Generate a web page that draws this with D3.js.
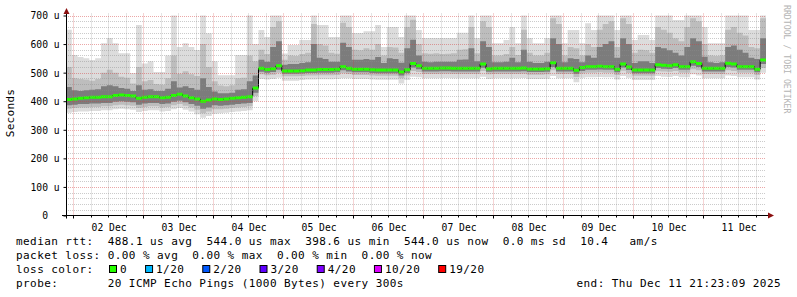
<!DOCTYPE html>
<html>
<head>
<meta charset="utf-8">
<script src="https://cdn.jsdelivr.net/npm/d3@7"></script>
<style>
body { margin: 0; background: #fff; }
svg text { font-family: "DejaVu Sans Mono", monospace; white-space: pre; }
</style>
</head>
<body>
<script>
// time span of the graph (10 days, 2 hour bins)
var tStart = new Date(2025, 11, 1, 21, 23, 9),
	tEnd = new Date(2025, 11, 11, 21, 23, 9);

// y ticks (microseconds) and x labels
var yTicks = [0, 100, 200, 300, 400, 500, 600, 700];
var xLabels = ["02 Dec", "03 Dec", "04 Dec", "05 Dec", "06 Dec", "07 Dec", "08 Dec", "09 Dec", "10 Dec", "11 Dec"];

// smoke: ping rtt quantiles per 2h bin, in us
var maxV = [650,562,555,550,544,550,603,621,603,568,568,499,667,532,540,502,502,560,705,590,603,590,579,705,638,540,491,491,491,562,562,705,
	600,649,625,705,705,567,597,597,614,614,
	705,667,667,625,625,705,705,639,639,645,
	645,667,590,660,660,625,705,705,649,621,
	621,621,621,621,621,640,640,705,621,705,
	705,603,603,614,660,603,705,621,603,603,
	621,705,705,603,649,649,603,673,649,705,
	705,705,649,705,705,614,632,632,614,705,
	705,705,684,684,705,705,705,660,603,603,
	603,705,705,705,705,649,649,705];
var p90 = [520,480,478,476,472,478,500,510,500,486,482,462,520,470,474,460,458,480,560,496,505,494,488,600,520,470,455,452,456,480,482,560,
	540,580,565,660,680,545,560,558,565,570,
	670,600,595,570,566,675,660,580,578,585,
	580,600,560,590,588,570,660,685,600,568,
	566,568,565,566,568,580,582,660,568,680,
	660,560,560,565,590,562,650,570,560,560,
	570,690,670,560,590,585,560,600,590,650,
	670,680,590,690,670,570,580,578,570,660,
	650,640,620,610,660,690,680,600,560,558,
	560,650,660,640,630,590,585,690];
var p75 = [450,438,436,438,440,442,452,456,452,446,444,436,456,440,442,436,436,444,470,448,452,446,440,480,450,434,428,428,430,440,442,470,
	490,545,538,590,610,528,530,530,534,536,
	600,552,548,538,538,605,590,545,545,548,
	545,555,534,550,548,535,585,615,560,538,
	536,538,538,538,538,545,546,585,540,610,
	590,536,536,538,552,536,580,538,534,534,
	538,620,600,536,550,548,536,560,552,590,
	600,610,552,620,600,534,540,540,534,590,
	585,578,570,560,590,620,610,556,536,534,
	536,590,595,580,570,552,548,620];
var medV = [406,408,410,412,414,414,416,416,420,422,420,418,410,414,416,416,412,414,420,424,418,412,408,400,404,408,406,408,410,412,414,416,
	446,515,511,514,524,506,506,506,507,509,
	509,511,511,511,512,521,515,512,512,512,
	510,509,509,509,509,502,510,532,524,515,
	515,515,516,516,515,515,515,515,515,530,
	514,515,515,515,515,515,516,513,513,513,
	514,535,515,515,515,508,518,521,521,522,
	521,521,512,530,520,509,509,509,509,528,
	526,524,528,521,521,538,532,515,515,515,
	515,533,530,521,521,521,512,544];
var p25 = [386,388,390,390,392,392,394,394,398,400,398,396,388,392,394,394,390,392,398,402,396,390,384,374,378,386,384,386,388,390,392,394,
	430,503,500,502,510,496,496,496,497,499,
	499,500,500,500,501,508,504,501,501,501,
	499,498,498,498,498,490,499,518,512,504,
	504,504,505,505,504,504,504,504,504,517,
	503,504,504,504,504,504,505,502,502,502,
	503,520,504,504,504,496,506,510,510,511,
	510,510,501,518,509,498,498,498,498,516,
	514,513,516,510,510,524,520,504,504,504,
	504,520,518,510,510,510,501,530];
var p10 = [374,376,378,378,380,380,382,382,386,388,386,384,376,380,382,382,378,380,386,390,384,378,370,358,364,372,372,374,376,378,380,382,
	418,494,491,493,500,487,487,487,488,490,
	490,491,491,491,492,498,495,492,492,492,
	490,489,489,489,489,480,490,506,502,495,
	495,495,496,496,495,495,495,495,495,506,
	494,495,495,495,495,495,496,493,493,493,
	494,508,495,495,495,485,497,500,500,501,
	500,500,492,507,499,489,489,489,489,505,
	504,503,506,500,500,512,508,495,495,495,
	495,508,506,500,500,500,492,516];
var minV = [360,362,364,364,366,366,368,368,372,374,372,370,362,366,368,368,364,366,372,376,370,364,354,342,348,356,358,360,362,364,366,368,
	400,478,476,478,482,472,472,472,474,476,
	476,477,477,477,478,480,480,478,478,478,
	476,475,475,475,475,462,474,486,484,480,
	480,480,481,481,480,480,480,480,480,486,
	478,480,480,480,480,480,481,478,478,478,
	479,488,480,480,480,466,482,484,484,485,
	484,484,476,488,482,474,474,474,474,488,
	486,485,488,484,484,494,490,480,480,480,
	480,490,488,484,484,484,476,500];

// legend texts
var legendLines = [
	"median rtt:  488.1 us avg  544.0 us max  398.6 us min  544.0 us now  0.0 ms sd  10.4   am/s",
	"packet loss: 0.00 % avg  0.00 % max  0.00 % min  0.00 % now"
];
var lossLabels = ["0", "1/20", "2/20", "3/20", "4/20", "10/20", "19/20"];
var lossColors = ["#26ff00", "#00b8ff", "#0059ff", "#5e00ff", "#7e00ff", "#dd00ff", "#ff0000"];
var probeText = "probe:       20 ICMP Echo Pings (1000 Bytes) every 300s";
var endText = "end: Thu Dec 11 21:23:09 2025";

[maxV, p90, p75, p25, p10, minV].forEach(function(a) {
	if (a.length != medV.length) throw new Error("bad length " + a.length);
});

var width = 797, height = 297;
var plotLeft = 66, plotRight = 766, plotTop = 15.5, plotBottom = 215.5;

var svg = d3.select("body").append("svg")
	.attr("width", width)
	.attr("height", height);

var x = d3.scaleTime().domain([tStart, tEnd]).range([plotLeft, plotRight]);
var y = d3.scaleLinear().domain([0, 700]).range([plotBottom, plotTop]);

// rows, one per bin + a closing row for the step curve
var rows = medV.map(function(m, i) {
	return { t: d3.timeHour.offset(tStart, i * 2), max: maxV[i], p90: p90[i], p75: p75[i], med: m, p25: p25[i], p10: p10[i], min: minV[i] };
});
var closing = Object.assign({}, rows[rows.length - 1], { t: tEnd });
var stepRows = rows.concat([closing]);

svg.append("clipPath").attr("id", "plot")
	.append("rect").attr("x", plotLeft).attr("y", plotTop).attr("width", plotRight - plotLeft).attr("height", plotBottom - plotTop);

var g = svg.append("g").attr("clip-path", "url(#plot)");

// smoke bands, outer to inner
var bands = [["min", "max", "#dcdcdc"], ["p10", "p90", "#bdbdbd"], ["p25", "p75", "#7c7c7c"]];
bands.forEach(function(b) {
	var area = d3.area()
		.x(function(d) { return x(d.t); })
		.y0(function(d) { return y(d[b[0]]); })
		.y1(function(d) { return y(d[b[1]]); })
		.curve(d3.curveStepAfter);
	g.append("path").datum(stepRows).attr("d", area).attr("fill", b[2]);
});

// median: thin black step line, green segments on top
var medLine = d3.line()
	.x(function(d) { return x(d.t); })
	.y(function(d) { return y(d.med); })
	.curve(d3.curveStepAfter);
g.append("path").datum(stepRows).attr("d", medLine)
	.attr("fill", "none").attr("stroke", "#000").attr("stroke-width", 1);

g.selectAll(".medseg")
	.data(rows)
	.enter().append("line")
	.attr("class", "medseg")
	.attr("x1", function(d) { return x(d.t); })
	.attr("x2", function(d, i) { return x(stepRows[i + 1].t); })
	.attr("y1", function(d) { return y(d.med); })
	.attr("y2", function(d) { return y(d.med); })
	.attr("stroke", lossColors[0])
	.attr("stroke-width", 3);

// grid (drawn over the graph, like rrdtool)
var grid = svg.append("g");
var minorY = d3.range(20, 701, 20).filter(function(v) { return v % 100 != 0; });
var majorY = yTicks.filter(function(v) { return v > 0; });
var sixHours = d3.timeHour.every(6).range(tStart, tEnd);
var minorX = sixHours.filter(function(d) { return d.getHours() != 0; });
var majorX = sixHours.filter(function(d) { return d.getHours() == 0; });

function ypx(v) { return Math.round(y(v)) + 0.5; }
function xpx(d) { return Math.floor(x(d)) + 0.5; }

grid.selectAll(".gy").data(minorY).enter().append("line")
	.attr("x1", plotLeft).attr("x2", plotRight)
	.attr("y1", ypx).attr("y2", ypx)
	.attr("stroke", "rgba(140,140,140,0.45)").attr("stroke-dasharray", "1,1");
grid.selectAll(".gx").data(minorX).enter().append("line")
	.attr("x1", xpx).attr("x2", xpx)
	.attr("y1", plotTop - 2).attr("y2", plotBottom)
	.attr("stroke", "rgba(140,140,140,0.45)").attr("stroke-dasharray", "1,1");
grid.selectAll(".my").data(majorY).enter().append("line")
	.attr("x1", plotLeft).attr("x2", plotRight)
	.attr("y1", ypx).attr("y2", ypx)
	.attr("stroke", "rgba(210,60,60,0.45)").attr("stroke-dasharray", "1,1");
grid.selectAll(".mx").data(majorX).enter().append("line")
	.attr("x1", xpx).attr("x2", xpx)
	.attr("y1", plotTop - 2).attr("y2", plotBottom)
	.attr("stroke", "rgba(210,60,60,0.45)").attr("stroke-dasharray", "1,1");

// y axis
var yAxis = d3.axisLeft(y)
	.tickValues(yTicks)
	.tickSize(3)
	.tickFormat(function(v) { return v == 0 ? "  0  " : v + " u"; });
var yg = svg.append("g").attr("transform", "translate(" + (plotLeft + 0.5) + ",0)").call(yAxis);
yg.select(".domain").remove();
yg.selectAll(".tick line").attr("stroke", "#000");
yg.selectAll(".tick text")
	.attr("x", 30 - plotLeft)
	.attr("dy", "0.35em")
	.attr("text-anchor", "start")
	.attr("font-size", "9.7px")
	.attr("fill", "#000")
	.style("font-family", "'DejaVu Sans Mono', monospace");

// x axis: labels centered at noon
var noons = xLabels.map(function(s, i) { return new Date(2025, 11, 2 + i, 12); });
var xAxis = d3.axisBottom(x)
	.tickValues(noons)
	.tickSize(0)
	.tickPadding(9)
	.tickFormat(function(d, i) { return xLabels[i]; });
var xg = svg.append("g").attr("transform", "translate(0," + plotBottom + ")").call(xAxis);
xg.select(".domain").remove();
xg.selectAll(".tick text")
	.attr("font-size", "9.7px")
	.attr("fill", "#000")
	.style("font-family", "'DejaVu Sans Mono', monospace");

// x tick marks every 6h
svg.selectAll(".xt").data(sixHours).enter().append("line")
	.attr("x1", xpx).attr("x2", xpx)
	.attr("y1", plotBottom).attr("y2", function(d) { return plotBottom + (d.getHours() == 0 ? 3 : 2); })
	.attr("stroke", "#000");

// axis lines + arrows
svg.append("line").attr("x1", plotLeft + 0.5).attr("x2", plotLeft + 0.5)
	.attr("y1", plotBottom + 3).attr("y2", 12).attr("stroke", "#000");
svg.append("line").attr("x1", plotLeft - 4).attr("x2", plotRight + 3)
	.attr("y1", plotBottom).attr("y2", plotBottom).attr("stroke", "#000");
svg.append("path")
	.attr("d", "M" + (plotLeft + 0.5) + ",8 L" + (plotLeft + 3.5) + ",14 L" + (plotLeft - 2.5) + ",14 Z")
	.attr("fill", "#8b1010");
svg.append("path")
	.attr("d", "M" + (plotRight + 8) + "," + plotBottom + " L" + (plotRight + 2) + "," + (plotBottom - 3) + " L" + (plotRight + 2) + "," + (plotBottom + 3) + " Z")
	.attr("fill", "#8b1010");

// y title
svg.append("text")
	.attr("transform", "translate(14,113) rotate(-90)")
	.attr("text-anchor", "middle")
	.attr("font-size", "11px")
	.attr("letter-spacing", "0.3px")
	.text("Seconds");

// watermark
svg.append("text")
	.attr("transform", "translate(784,5) rotate(90)")
	.attr("font-size", "8.2px")
	.attr("fill", "#b4b4b4")
	.text("RRDTOOL / TOBI OETIKER");

// legend
var lg = svg.append("g").attr("font-size", "11px").attr("letter-spacing", "0.43px").attr("fill", "#000");
legendLines.forEach(function(s, i) {
	lg.append("text").attr("x", 16).attr("y", 245 + i * 14).text(s);
});
lg.append("text").attr("x", 16).attr("y", 273).text("loss color:");
var lx = 109;
lossLabels.forEach(function(s, i) {
	lg.append("rect")
		.attr("x", lx + 0.5).attr("y", 265.5)
		.attr("width", 7).attr("height", 7)
		.attr("fill", lossColors[i]).attr("stroke", "#000");
	var t = lg.append("text").attr("x", lx + 11).attr("y", 273).text(s);
	lx += 11 + t.node().getComputedTextLength() + 18;
});
lg.append("text").attr("x", 16).attr("y", 287).text(probeText);
lg.append("text").attr("x", 781).attr("y", 287).attr("text-anchor", "end").text(endText);
</script>
</body>
</html>
